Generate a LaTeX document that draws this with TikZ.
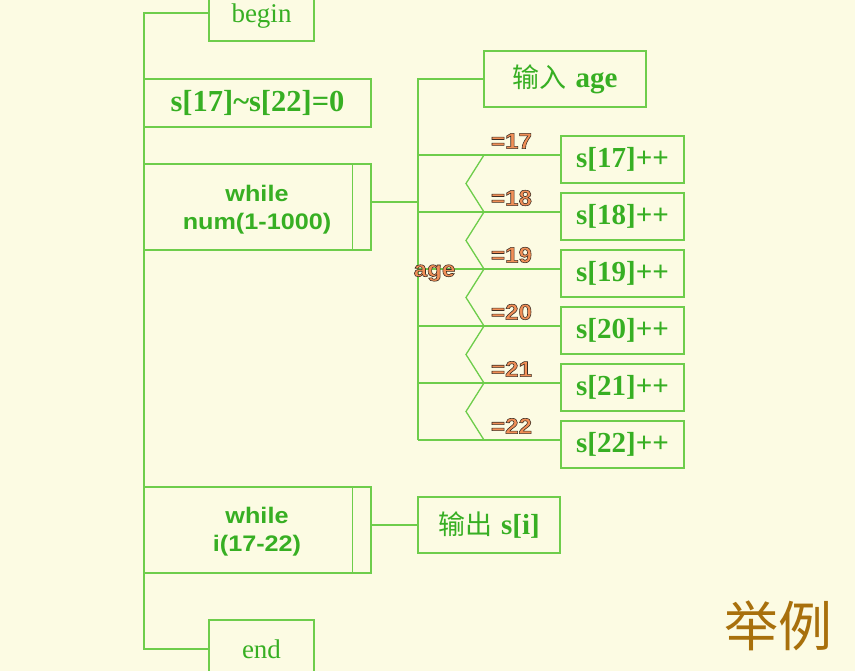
\documentclass[tikz,border=0pt]{standalone}
\usepackage{fontspec}
\setmainfont{Liberation Serif}
\newfontfamily\labsans[FakeStretch=1.12]{Liberation Sans}
\newfontfamily\labfb[FakeStretch=1.1,BoldFeatures={FakeBold=2.6}]{Liberation Sans}
\newfontfamily\cjk{Noto Sans CJK SC}
\definecolor{bg}{RGB}{252,251,227}
\definecolor{tgreen}{RGB}{55,175,35}
\definecolor{lgreen}{RGB}{110,205,75}
\definecolor{lorange}{RGB}{240,146,92}
\definecolor{shad}{RGB}{60,45,35}
\definecolor{jubrown}{RGB}{168,112,12}
\newcommand{\orlab}[1]{{\color{shad}\special{pdf:code 0.945 0.560 0.340 rg}#1}}
\begin{document}
\begin{tikzpicture}[x=1pt,y=-1pt,
  box/.style={draw=lgreen, line width=1.3pt, inner sep=0pt, text=tgreen, align=center},
  conn/.style={draw=lgreen, line width=1.3pt},
  serifr/.style={font=\fontsize{27pt}{30pt}\selectfont},
  serifb/.style={font=\bfseries\fontsize{29pt}{30pt}\selectfont},
  sansb/.style={inner sep=0pt, text=tgreen, align=center, font=\labsans\bfseries\fontsize{22.5pt}{28pt}\selectfont},
  lab/.style={inner sep=0pt, font=\labfb\bfseries\fontsize{22pt}{22pt}\selectfont},
  ju/.style={inner sep=0pt, text=jubrown, font=\cjk\fontsize{54pt}{54pt}\selectfont}
]
\fill[bg] (0,0) rectangle (855,671);
\useasboundingbox (0,0) rectangle (855,671);

% main column
\node[box, serifr, minimum width=105pt, minimum height=56pt, text height=24pt, text depth=4pt] (begin) at (261.5,13) {begin};
\node[box, font=\bfseries\fontsize{30.5pt}{30pt}\selectfont, minimum width=227pt, minimum height=48pt] (init) at (257.5,103) {s[17]\char"7E s[22]=0};
\node[box, minimum width=227pt, minimum height=86pt] (w1) at (257.5,207) {};
\node[sansb] (w1t) at (257,209.5) {while\\num(1-1000)};
\node[box, minimum width=227pt, minimum height=86pt] (w2) at (257.5,530) {};
\node[sansb] (w2t) at (257,532) {while\\i(17-22)};
\node[box, serifr, minimum width=105pt, minimum height=58pt] (end) at (261.5,649) {end};
\draw[conn] (w1.north east) ++(-19,0) coordinate (w1a) -- (w1a |- w1.south);
\draw[conn] (w2.north east) ++(-19,0) coordinate (w2a) -- (w2a |- w2.south);

\coordinate (sp1) at (144,13);
\coordinate (sp2) at (144,649);
\draw[conn] (begin.west) -- (sp1) -- (sp2) -- (end.west);

% inner column
\node[box, minimum width=162pt, minimum height=56pt] (inp) at (565,79)
  {{\cjk\fontsize{27pt}{30pt}\selectfont 输入}\hspace{9pt}{\bfseries\fontsize{29pt}{30pt}\selectfont age}};
\coordinate (ss1) at (418,79);
\coordinate (ss2) at (418,440);
\coordinate (w1o) at ([yshift=5pt]w1.east);
\draw[conn] (w1o) -- (w1o -| ss1);

\foreach \k [count=\i from 0] in {17,...,22} {
  \node[box, serifb, minimum width=123pt, minimum height=47pt] (s\k) at (622.5,{159.5+57*\i}) {s[\k]++};
  \coordinate (b\k) at (418,{155+57*\i});
  \draw[conn] (b\k) -- (b\k -| s\k.west);
  \node[lab] (l\k) at (511.5,{141+57*\i}) {\orlab{=\k}};
}
\draw[conn] (inp.west) -- (ss1) -- (ss2);
\draw[conn] (484,155) \foreach \i in {0,...,4} { -- (466,{183.5+57*\i}) -- (484,{212+57*\i}) };

\node[lab] (age) at (434.5,273) {\orlab{age}};

% output
\node[box, minimum width=142pt, minimum height=56pt] (out) at (489,525)
  {{\cjk\fontsize{27pt}{30pt}\selectfont 输出}\hspace{9pt}{\bfseries\fontsize{29pt}{30pt}\selectfont s[i]}};
\coordinate (w2o) at ([yshift=5pt]w2.east);
\draw[conn] (w2o) -- (out.west);

% corner label
\node[ju] (ju) at (778,626) {举例};
\end{tikzpicture}
\end{document}
